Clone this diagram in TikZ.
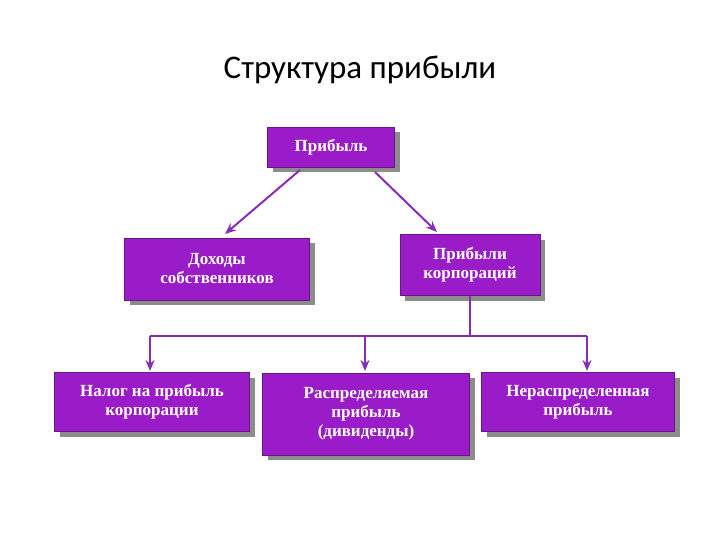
\documentclass[tikz,border=0pt]{standalone}
\usepackage{fontspec}
\setmainfont{Liberation Serif}
\newfontfamily\titlefont{Carlito}
\usetikzlibrary{arrows.meta,shadows}
\definecolor{boxpurple}{HTML}{9A1CC8}
\definecolor{linepurple}{HTML}{8A2BB8}
\tikzset{
  pbox/.style={fill=boxpurple, draw=boxpurple!70!black, line width=0.6pt, text=white,
    font=\bfseries\fontsize{17}{19}\selectfont, align=center, inner sep=0pt,
    drop shadow={shadow xshift=5pt, shadow yshift=-5pt, fill=black!45, opacity=1}},
  conn/.style={linepurple, line width=2pt},
  arr/.style={conn, -{Stealth[length=11pt,width=9pt]}}
}
\begin{document}
\begin{tikzpicture}[x=1pt,y=-1pt]
\useasboundingbox (0,0) rectangle (720,540);
\node[font=\titlefont\fontsize{33}{36}\selectfont] (title) at (360,70) {Структура прибыли};
\node[pbox, minimum width=127pt, minimum height=40pt] (p) at (331,147) {Прибыль};
\node[pbox, minimum width=185pt, minimum height=62pt] (d) at (217,269) {Доходы\\собственников};
\node[pbox, minimum width=140pt, minimum height=61pt] (k) at (470,265) {Прибыли\\корпораций};
\node[pbox, minimum width=195pt, minimum height=59pt] (n) at (152,402) {Налог на прибыль\\корпорации};
\node[pbox, minimum width=207pt, minimum height=82pt] (r) at (366,414) {Распределяемая\\прибыль\\(дивиденды)};
\node[pbox, minimum width=193pt, minimum height=59pt] (u) at (578,402) {Нераспределенная\\прибыль};
\coordinate (j) at (470,336);
\coordinate (jl) at (150,336);
\coordinate (jm) at (365,336);
\coordinate (jr) at (587,336);
\draw[arr] (300,170) -- (225,234);
\draw[arr] (375,172) -- (437,232);
\draw[conn] (k.south) -- (j);
\draw[conn] (jl) -- (jr);
\draw[arr] (jl) -- (150,371);
\draw[arr] (jm) -- (365,371);
\draw[arr] (jr) -- (587,371);
\end{tikzpicture}
\end{document}
